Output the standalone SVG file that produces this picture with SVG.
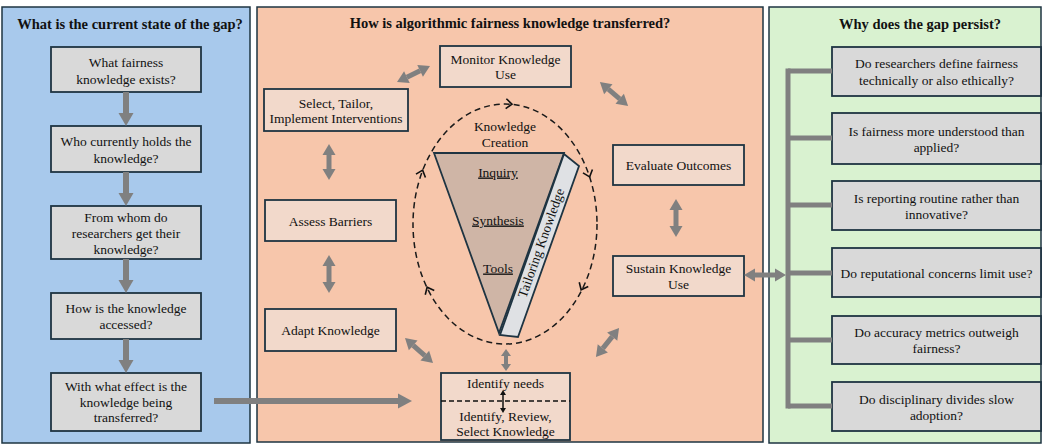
<svg xmlns="http://www.w3.org/2000/svg" width="1043" height="444" viewBox="0 0 1043 444" font-family="'Liberation Serif','Times New Roman',serif">
<defs>
<style>
.panel{stroke:#1e3442;stroke-width:1.5}
.gbox{fill:#d9d9d9;stroke:#1e3442;stroke-width:1.8}
.pbox{fill:#f2d9cb;stroke:#1e3442;stroke-width:1.8}
text{font-family:"Liberation Serif","Times New Roman",serif;font-size:13.5px;fill:#111;text-anchor:middle}
.title{font-weight:bold;font-size:14.5px}
.chev{stroke:#111;stroke-width:1.6;fill:none}
</style>
<marker id="hg" markerUnits="userSpaceOnUse" markerWidth="11" markerHeight="13" refX="0" refY="6.5" orient="auto-start-reverse" overflow="visible"><path d="M0,0 L11,6.5 L0,13 z" fill="#808080"/></marker>
<marker id="hd" markerUnits="userSpaceOnUse" markerWidth="13" markerHeight="15" refX="0" refY="7.5" orient="auto" overflow="visible"><path d="M0,0 L13,7.5 L0,15 z" fill="#808080"/></marker>
<marker id="hh" markerUnits="userSpaceOnUse" markerWidth="14" markerHeight="15" refX="0" refY="7.5" orient="auto" overflow="visible"><path d="M0,0 L14,7.5 L0,15 z" fill="#808080"/></marker>
<marker id="hs" markerUnits="userSpaceOnUse" markerWidth="7" markerHeight="10" refX="0" refY="5" orient="auto-start-reverse" overflow="visible"><path d="M0,0 L7,5 L0,10 z" fill="#808080"/></marker>
<marker id="hb" markerUnits="userSpaceOnUse" markerWidth="5" markerHeight="6" refX="0" refY="3" orient="auto-start-reverse" overflow="visible"><path d="M0,0 L5,3 L0,6 z" fill="#111"/></marker>
</defs>
<rect width="1043" height="444" fill="#ffffff"/>
<!-- panels -->
<g id="panel-left"><rect class="panel" x="2" y="7" width="248" height="436" fill="#a8c9ec"/><text class="title" x="130" y="29">What is the current state of the gap?</text></g>
<g id="panel-middle"><rect class="panel" x="257" y="7" width="506" height="435" fill="#f7c6ab"/><text class="title" x="510" y="28">How is algorithmic fairness knowledge transferred?</text></g>
<g id="panel-right"><rect class="panel" x="769" y="7" width="272" height="436" fill="#d9f2d0"/><text class="title" x="920" y="29">Why does the gap persist?</text></g>

<!-- left nodes -->
<g id="l1"><rect class="gbox" x="51" y="47" width="150" height="45"/><text x="126" y="66.5">What fairness</text><text x="126" y="84">knowledge exists?</text></g>
<g id="l2"><rect class="gbox" x="51" y="126" width="150" height="46"/><text x="126" y="145.5">Who currently holds the</text><text x="126" y="162.5">knowledge?</text></g>
<g id="l3"><rect class="gbox" x="51" y="206" width="150" height="53"/><text x="126" y="221.5">From whom do</text><text x="126" y="237.5">researchers get their</text><text x="126" y="253.5">knowledge?</text></g>
<g id="l4"><rect class="gbox" x="51" y="293" width="150" height="46"/><text x="126" y="312.5">How is the knowledge</text><text x="126" y="328.5">accessed?</text></g>
<g id="l5"><rect class="gbox" x="51" y="373" width="150" height="58"/><text x="126" y="390.5">With what effect is the</text><text x="126" y="406.5">knowledge being</text><text x="126" y="421.5">transferred?</text></g>

<!-- center graphic -->
<g id="knowledge-creation">
<ellipse cx="505" cy="224" rx="92" ry="120" fill="none" stroke="#1a1a1a" stroke-width="1.5" stroke-dasharray="6 4"/>
<path class="chev" d="M-4,-5 L2,0 L-4,5" transform="translate(510,104) rotate(4)"/>
<path class="chev" d="M-4,-5 L2,0 L-4,5" transform="translate(589,175) rotate(71)"/>
<path class="chev" d="M-4,-5 L2,0 L-4,5" transform="translate(582,288) rotate(116)"/>
<path class="chev" d="M-4,-5 L2,0 L-4,5" transform="translate(428,289) rotate(-116)"/>
<path class="chev" d="M-4,-5 L2,0 L-4,5" transform="translate(422,172) rotate(-71)"/>
<text x="505" y="130.5">Knowledge</text><text x="505" y="146.5">Creation</text>
<polygon points="434,153 564,153 499,333" fill="#cfb5a6" stroke="#1e3442" stroke-width="1.8"/>
<polygon points="564,154 579,166 518,337 500,335" fill="#dfe1e4" stroke="#1e3442" stroke-width="1.8"/>
<text x="498" y="176.5" text-decoration="underline">Inquiry</text>
<text x="498" y="224.5" text-decoration="underline">Synthesis</text>
<text x="498" y="272.5" text-decoration="underline">Tools</text>
<text x="541" y="243" dominant-baseline="central" transform="rotate(-70.4 541 243)">Tailoring Knowledge</text>
</g>

<!-- middle nodes -->
<g id="m-monitor"><rect class="pbox" x="440" y="46" width="131" height="41"/><text x="505.5" y="63.5">Monitor Knowledge</text><text x="505.5" y="78.5">Use</text></g>
<g id="m-select"><rect class="pbox" x="264" y="89" width="144" height="42"/><text x="336" y="107.5">Select, Tailor,</text><text x="336" y="122.5">Implement Interventions</text></g>
<g id="m-assess"><rect class="pbox" x="265" y="200" width="131" height="41"/><text x="330.5" y="225.5">Assess Barriers</text></g>
<g id="m-adapt"><rect class="pbox" x="265" y="309" width="131" height="42"/><text x="330.5" y="335">Adapt Knowledge</text></g>
<g id="m-evaluate"><rect class="pbox" x="613" y="145" width="131" height="40"/><text x="678.5" y="170">Evaluate Outcomes</text></g>
<g id="m-sustain"><rect class="pbox" x="613" y="256" width="131" height="40"/><text x="678.5" y="272.5">Sustain Knowledge</text><text x="678.5" y="288.5">Use</text></g>
<g id="m-identify"><rect class="pbox" x="441" y="373" width="129" height="67"/>
<line x1="441" y1="401" x2="570" y2="401" stroke="#111" stroke-width="1.5" stroke-dasharray="5 3"/>
<text x="505.5" y="387.5">Identify needs</text><text x="505.5" y="420.5">Identify, Review,</text><text x="505.5" y="435.5">Select Knowledge</text>
<line x1="503" y1="395" x2="503" y2="408" stroke="#111" stroke-width="1.5" marker-start="url(#hb)" marker-end="url(#hb)"/>
</g>

<!-- right nodes -->
<g id="r1"><rect class="gbox" x="832" y="47" width="209" height="49"/><text x="936.5" y="67.5">Do researchers define fairness</text><text x="936.5" y="84.5">technically or also ethically?</text></g>
<g id="r2"><rect class="gbox" x="832" y="113" width="209" height="51"/><text x="936.5" y="135.5">Is fairness more understood than</text><text x="936.5" y="151.5">applied?</text></g>
<g id="r3"><rect class="gbox" x="832" y="181" width="209" height="49"/><text x="936.5" y="202.5">Is reporting routine rather than</text><text x="936.5" y="218.5">innovative?</text></g>
<g id="r4"><rect class="gbox" x="832" y="248" width="209" height="49"/><text x="936.5" y="277.5">Do reputational concerns limit use?</text></g>
<g id="r5"><rect class="gbox" x="832" y="316" width="209" height="48"/><text x="936.5" y="336.5">Do accuracy metrics outweigh</text><text x="936.5" y="352.5">fairness?</text></g>
<g id="r6"><rect class="gbox" x="832" y="382" width="209" height="49"/><text x="936.5" y="403.5">Do disciplinary divides slow</text><text x="936.5" y="419.5">adoption?</text></g>

<!-- connectors -->
<g id="connectors">
<g stroke="#808080" stroke-width="6">
<line x1="126" y1="92" x2="126" y2="113" marker-end="url(#hd)"/>
<line x1="126" y1="172" x2="126" y2="193" marker-end="url(#hd)"/>
<line x1="126" y1="259" x2="126" y2="280" marker-end="url(#hd)"/>
<line x1="126" y1="339" x2="126" y2="360" marker-end="url(#hd)"/>
<line x1="214" y1="401" x2="398" y2="401" marker-end="url(#hh)"/>
</g>
<g stroke="#808080" stroke-width="5">
<line x1="406.9" y1="77.2" x2="420.1" y2="70.8" marker-start="url(#hg)" marker-end="url(#hg)"/>
<line x1="608.3" y1="89.2" x2="619.7" y2="98.8" marker-start="url(#hg)" marker-end="url(#hg)"/>
<line x1="329" y1="155" x2="329" y2="169" marker-start="url(#hg)" marker-end="url(#hg)"/>
<line x1="329" y1="266" x2="329" y2="282" marker-start="url(#hg)" marker-end="url(#hg)"/>
<line x1="413.2" y1="345.3" x2="424.8" y2="355.7" marker-start="url(#hg)" marker-end="url(#hg)"/>
<line x1="676" y1="210" x2="676" y2="226" marker-start="url(#hg)" marker-end="url(#hg)"/>
<line x1="612.2" y1="336.6" x2="602.8" y2="348.4" marker-start="url(#hg)" marker-end="url(#hg)"/>
<line x1="755" y1="275" x2="775" y2="275" marker-start="url(#hg)" marker-end="url(#hg)"/>
<line x1="506" y1="356" x2="506" y2="364" stroke-width="4" marker-start="url(#hs)" marker-end="url(#hs)"/>
</g>
<g stroke="#808080" stroke-width="5" fill="none">
<line x1="788" y1="68.5" x2="788" y2="408.5"/>
<line x1="788" y1="71" x2="832" y2="71"/>
<line x1="788" y1="138" x2="832" y2="138"/>
<line x1="788" y1="205" x2="832" y2="205"/>
<line x1="788" y1="273" x2="832" y2="273"/>
<line x1="788" y1="340" x2="832" y2="340"/>
<line x1="788" y1="406" x2="832" y2="406"/>
</g>
</g>
</svg>
